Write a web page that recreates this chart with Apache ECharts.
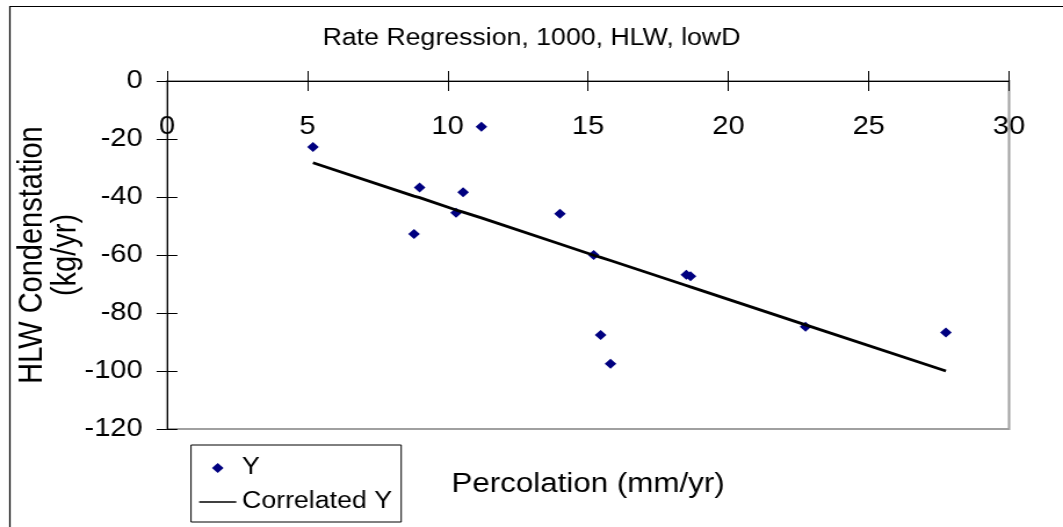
<!DOCTYPE html>
<html>
<head>
<meta charset="utf-8">
<script src="https://cdn.jsdelivr.net/npm/echarts@6/dist/echarts.min.js"></script>
<style>
    html, body { margin: 0; padding: 0; background: #fff; overflow: hidden; }
    /* the original picture is stretched sideways, so the chart is drawn narrower and widened */
    #chart { width: 916px; height: 527px; transform: scaleX(1.1605); transform-origin: 0 0; }
</style>
</head>
<body>
<div id="chart"></div>
<script>
// Percolation (mm/yr) for each run
const percolation = [5.2, 8.8, 9.0, 10.3, 10.55, 11.2, 14.0, 15.2, 15.45, 15.8, 18.5, 18.65, 22.75, 27.75];
// HLW condensation (kg/yr)
const condensation = [-22.8, -52.8, -36.7, -45.4, -38.4, -15.8, -45.8, -60.0, -87.6, -97.5, -66.8, -67.3, -84.7, -86.7];
// regression values at the same percolation
const correlated = [-28.2, -39.7, -40.2, -44.5, -45.2, -47.2, -56.2, -60.1, -60.8, -61.9, -70.5, -71.0, -84.1, -100.0];

const xTicks = { min: 0, max: 30, interval: 5 };
const yTicks = { min: -120, max: 0, interval: 20 };

const font = "'Liberation Sans', Arial, sans-serif";

const chart = echarts.init(document.getElementById('chart'));

// x axis sits on y = 0, i.e. the top of the plot; ticks cross it so two axes are stacked
const xBase = { type: 'value', min: xTicks.min, max: xTicks.max, interval: xTicks.interval, splitLine: { show: false } };
const yBase = { type: 'value', min: yTicks.min, max: yTicks.max, interval: yTicks.interval, splitLine: { show: false } };

const option = {
    animation: false,
    backgroundColor: '#fff',
    textStyle: { fontFamily: font },
    title: {
        text: 'Rate Regression, 1000, HLW, lowD',
        left: 'center',
        top: 22,
        textStyle: { fontSize: 23, fontWeight: 'normal', color: '#000', fontFamily: font }
    },
    graphic: [{
        type: 'rect',
        left: 6,
        top: 4,
        shape: { width: 1000, height: 600 },
        style: { fill: 'none', stroke: '#000', lineWidth: 1.2 },
        silent: true
    }],
    legend: {
        orient: 'vertical',
        left: 164.6,
        top: 445,
        padding: [11, 8, 8, 7],
        itemGap: 10,
        itemWidth: 32,
        itemHeight: 10,
        symbolKeepAspect: true,
        borderColor: '#000',
        borderWidth: 1,
        textStyle: { fontSize: 23, color: '#000', lineHeight: 24, fontFamily: font },
        data: [
            { name: 'Y', icon: 'path://M5,0 L10,5 L5,10 L0,5 Z' },
            { name: 'Correlated Y', icon: 'path://M0,0 H32 V1.3 H0 Z' }
        ]
    },
    grid: {
        left: 143.9,
        right: 46.5,
        top: 81,
        bottom: 98,
        outerBoundsMode: 'none',
        show: true,
        borderColor: '#a0a0a0',
        borderWidth: 2,
        backgroundColor: '#fff'
    },
    xAxis: [Object.assign({}, xBase, {
        position: 'top',
        axisLine: { onZero: false, lineStyle: { color: '#000', width: 1 } },
        axisTick: { inside: true, length: 10, lineStyle: { color: '#000' } },
        axisLabel: { inside: true, margin: 34, fontSize: 25, color: '#000', fontFamily: font }
    }), Object.assign({}, xBase, {
        position: 'top',
        axisLine: { show: false, onZero: false },
        axisTick: { length: 10, lineStyle: { color: '#000' } },
        axisLabel: { show: false }
    }), Object.assign({}, xBase, {
        position: 'bottom',
        name: 'Percolation (mm/yr)',
        nameLocation: 'middle',
        nameGap: 42,
        nameMoveOverlap: false,
        nameTextStyle: { fontSize: 27, color: '#000', fontFamily: font },
        axisLine: { show: false, onZero: false },
        axisTick: { show: false },
        axisLabel: { show: false }
    })],
    yAxis: [Object.assign({}, yBase, {
        position: 'left',
        name: 'HLW Condenstation\n(kg/yr)',
        nameLocation: 'middle',
        nameRotate: 90,
        nameGap: 72,
        nameMoveOverlap: false,
        nameTextStyle: { fontSize: 29, lineHeight: 29, color: '#000', fontFamily: font, align: 'center' },
        axisLine: { onZero: false, lineStyle: { color: '#000', width: 1 } },
        axisTick: { length: 9, lineStyle: { color: '#000' } },
        axisLabel: { margin: 21, fontSize: 25, color: '#000', fontFamily: font }
    }), Object.assign({}, yBase, {
        position: 'left',
        axisLine: { show: false, onZero: false },
        axisTick: { inside: true, length: 9, lineStyle: { color: '#000' } },
        axisLabel: { show: false }
    })],
    series: [{
        name: 'Y',
        type: 'scatter',
        symbol: 'diamond',
        symbolSize: 10,
        itemStyle: { color: '#000080', opacity: 1 },
        data: percolation.map((x, i) => [x, condensation[i]])
    }, {
        name: 'Correlated Y',
        type: 'line',
        symbol: 'none',
        lineStyle: { color: '#000', width: 2.8 },
        itemStyle: { color: '#000' },
        data: percolation.map((x, i) => [x, correlated[i]])
    }]
};

chart.setOption(option);
</script>
</body>
</html>
